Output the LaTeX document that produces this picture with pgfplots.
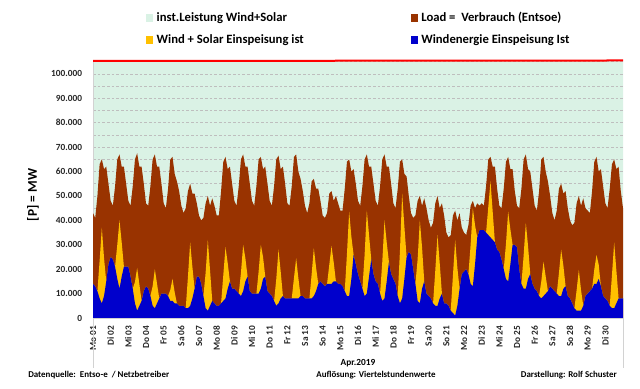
\documentclass[border=0pt]{standalone}
\usepackage{pgfplots}
\pgfplotsset{compat=1.18}
\usepackage{pgfplotstable}
\usepackage{fontspec}
\setmainfont{Carlito}
\definecolor{mint}{RGB}{218,242,229}
\definecolor{loadbrown}{RGB}{153,51,0}
\definecolor{wsyellow}{RGB}{255,192,0}
\definecolor{windblue}{RGB}{0,0,204}
\definecolor{gridgray}{RGB}{190,190,190}
\definecolor{framegray}{RGB}{210,210,210}
\pgfplotsset{sq/.style={legend image code/.code={\fill[##1] (0pt,-2.75pt) rectangle (5.5pt,2.75pt);}}}
\pgfplotstableread{
i L WS W
0 43 14 14
1 41 13 13
2 50 11 11
3 63 23.5 8
4 65 37 6
5 61 24.5 9
6 62 15 15
7 55 22 22
8 48 25 25
9 46 24 24
10 54 21 21
11 65 30 16
12 67 40 12
13 62 31 17
14 62 21 21
15 55 21 21
16 48 21 21
17 46 17 17
18 54 12 12
19 65 14.8 6
20 67.5 20.5 3
21 62 13.8 5
22 62 7 7
23 55 11 11
24 47 13 13
25 46 12 12
26 54 9 9
27 65 13 5
28 67 20 4
29 62 14 6
30 62 8 8
31 55 10 10
32 47 10 10
33 45 10 10
34 53 9 9
35 65 11.5 7
36 66 16 7
37 59 10.5 6
38 56 6 6
39 52 5 5
40 46 5 5
41 43 5 5
42 45 4 4
43 52 17 4
44 55 31 5
45 51 21 8
46 51 12 12
47 47 17 17
48 42 17 17
49 40 14 14
50 41 9 9
51 47 18.5 4
52 50 32 3
53 46 19.5 5
54 49 7 7
55 46 6 6
56 42 5 5
57 42 5 5
58 52 6 6
59 64 17.5 7
60 66 29 8
61 61 22.5 12
62 62 15 15
63 55 12 12
64 48 12 12
65 46 11 11
66 54 10 10
67 65 18.5 9
68 67 30 11
69 62 24.5 15
70 62 17 17
71 55 11 11
72 48 10 10
73 46 10 10
74 54 10 10
75 65 19 10
76 66 30 12
77 61 25 16
78 62 17 17
79 55 11 11
80 48 10 10
81 46 9 9
82 54 7 7
83 65 16 5
84 66.5 28 6
85 61 19 8
86 62 9 9
87 55 8 8
88 47 8 8
89 46 8 8
90 54 8 8
91 66 16.3 8
92 67 24.5 8
93 60 16.3 8
94 57 9 9
95 52 9 9
96 46 8 8
97 43 8 8
98 47 8 8
99 56 17.8 8
100 57 28.6 9
101 53 20.8 11
102 53 14 14
103 48 15 15
104 42 14 14
105 41 13 13
106 43 14 14
107 51 21.8 14
108 52 29.5 14
109 48 22.8 15
110 50 15 15
111 47 14 14
112 44 14 14
113 44 13 13
114 53 11 11
115 64 26.3 9
116 65 43.6 9
117 60 33.3 16
118 61 26 26
119 55 22 22
120 48 18 18
121 46 15 15
122 54 12 12
123 65 26 9
124 67 44 10
125 62 34 17
126 62 24 24
127 55 18 18
128 48 15 15
129 46 14 14
130 54 10 10
131 65 23 7
132 67 40 8
133 62 31 15
134 62 23 23
135 55 18 18
136 47 16 16
137 45 14 14
138 53 9 9
139 64 27.5 6
140 65 51 8
141 59 37.5 16
142 58 25 25
143 50 27 27
144 43 26 26
145 41 20 20
146 42 14 14
147 48 24 7
148 50 40 6
149 46 29 12
150 49 15 15
151 45 10 10
152 40 9 9
153 37 8 8
154 39 6 6
155 47 19.5 5
156 50 34 5
157 45 22.5 8
158 47 10 10
159 42 6 6
160 35 6 6
161 33 5 5
162 34 3 3
163 42 17.5 2
164 44 32 1
165 40 20.5 5
166 43 12 12
167 37 18 18
168 35 19 19
169 34 20 20
170 38 18 18
171 46 30 14
172 48 45 13
173 45 38 22
174 47 33 33
175 46 36 36
176 47 36 36
177 46 36 36
178 54 35 35
179 65 45.5 34
180 66 56 33
181 62 43.5 32
182 62 31 31
183 53 28 28
184 46 27 27
185 45 24 24
186 53 20 20
187 64 30.3 16
188 66 43.6 15
189 61 36.3 22
190 61 30 30
191 52 30 30
192 46 29 29
193 45 20 20
194 53 14 14
195 65 25.5 12
196 67 39 12
197 61 29.5 16
198 60 18 18
199 53 14 14
200 46 12 12
201 44 11 11
202 52 9 9
203 65 15 8
204 66 23 9
205 60 17 10
206 56 11 11
207 50 13 13
208 43 12 12
209 40 11 11
210 44 10 10
211 53 18.5 9
212 55 28 9
213 51 21.5 12
214 52 13 13
215 45 9 9
216 40 8 8
217 38 6 6
218 39 4 4
219 47 11.4 3
220 50 19.7 3
221 46 11.4 3
222 49 5 5
223 45 9 9
224 44 10 10
225 43 11 11
226 52 12 12
227 64 19.9 14
228 66 25.8 14
229 60 21.9 16
230 61 13 13
231 54 9 9
232 47 8 8
233 45 7 7
234 53 5 5
235 63 17.5 4
236 65 31 4
237 61 19.5 6
238 62 8 8
239 52 8 8
240 45 8 8
}\data
\begin{document}
\begin{tikzpicture}[font=\bfseries]
\draw[framegray, line width=0.6pt] (69.75pt,53.25pt) -- (69.75pt,15.75pt);
\draw[framegray, line width=0.6pt] (467.25pt,53.25pt) -- (467.25pt,15.75pt);
\begin{axis}[
  set layers,
  at={(69.75pt,53.25pt)}, anchor=south west,
  scale only axis, width=397.5pt, height=193.5pt,
  xmin=0, xmax=240, ymin=0, ymax=105.7,
  axis x line*=bottom, axis y line*=left,
  axis line style={framegray, line width=0.6pt},
  xtick={0,8,...,232},
  xticklabels={Mo 01,Di 02,Mi 03,Do 04,Fr 05,Sa 06,So 07,Mo 08,Di 09,Mi 10,Do 11,Fr 12,Sa 13,So 14,Mo 15,Di 16,Mi 17,Do 18,Fr 19,Sa 20,So 21,Mo 22,Di 23,Mi 24,Do 25,Fr 26,Sa 27,So 28,Mo 29,Di 30},
  ytick={0,10,...,100},
  yticklabels={0,10.000,20.000,30.000,40.000,50.000,60.000,70.000,80.000,90.000,100.000},
  minor ytick={5,15,...,105},
  ymajorgrids, yminorgrids,
  major grid style={gridgray, line width=0.4pt, dash pattern=on 2pt off 1.5pt},
  minor grid style={gridgray, line width=0.4pt, dash pattern=on 2pt off 1.5pt},
  major tick length=0pt, minor tick length=0pt,
  ticklabel style={font=\bfseries\fontsize{7}{8}\selectfont, text=black!85},
  xticklabel style={rotate=90, anchor=east, inner xsep=5.5pt, inner ysep=0pt},
  yticklabel style={anchor=east, inner sep=0pt},
  yticklabel shift=8pt,
  legend columns=2,
  legend cell align=left,
  legend style={at={(0.1,1.0556)}, anchor=south west, draw=none, fill=none,
    inner sep=0pt, outer sep=0pt, column sep=2.5pt, row sep=8.2pt,
    font=\bfseries\fontsize{9.5}{10}\selectfont,
    nodes={inner sep=0pt, text height=6.5pt, text depth=1.8pt}},
]
\addplot[on layer=axis background, fill=mint, draw=none, sq] coordinates {(0,105.3) (240,105.5)} \closedcycle;
\addlegendentry{\makebox[188pt][l]{inst.Leistung Wind+Solar}}
\addplot[fill=loadbrown, draw=none, sq] table[x=i, y=L] {\data} \closedcycle;
\addlegendentry{Load = \ Verbrauch (Entsoe)}
\addplot[fill=wsyellow, draw=none, sq] table[x=i, y=WS] {\data} \closedcycle;
\addlegendentry{\makebox[188pt][l]{Wind + Solar Einspeisung ist}}
\addplot[fill=windblue, draw=none, sq] table[x=i, y=W] {\data} \closedcycle;
\addlegendentry{Windenergie Einspeisung Ist}
\addplot[red, line width=1.5pt, forget plot] coordinates {(0,105.3) (240,105.5)};
\end{axis}
\node[rotate=90, font=\bfseries\fontsize{10}{12}\selectfont] at (24.75pt,145.5pt) {[P] = MW};
\node[font=\bfseries\fontsize{7}{8}\selectfont] at (268.5pt,19.5pt) {Apr.2019};
\node[anchor=west, font=\bfseries\fontsize{6.7}{8}\selectfont, inner sep=0pt] at (21pt,10.5pt) {Datenquelle:\ \ Entso-e\ \ / Netzbetreiber};
\node[font=\bfseries\fontsize{6.7}{8}\selectfont, inner sep=0pt] at (282pt,10.5pt) {Auflösung: Viertelstundenwerte};
\node[anchor=east, font=\bfseries\fontsize{6.7}{8}\selectfont, inner sep=0pt] at (462.75pt,10.5pt) {Darstellung: Rolf Schuster};
\pgfresetboundingbox
\path[use as bounding box] (0,0) rectangle (480pt,291.75pt);
\end{tikzpicture}
\end{document}
